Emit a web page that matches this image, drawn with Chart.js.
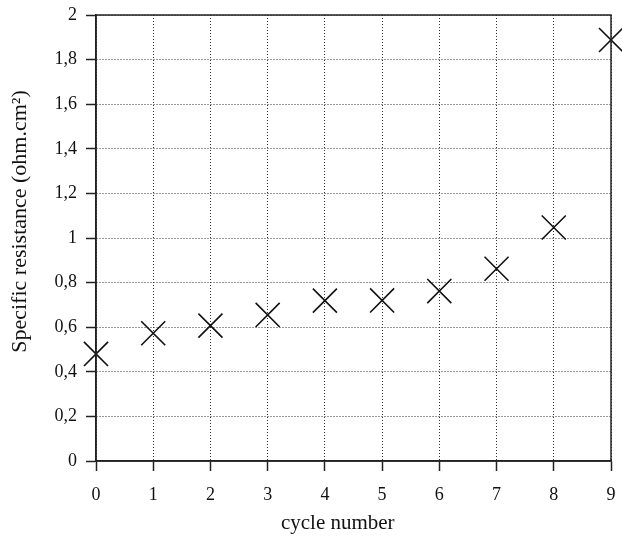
<!DOCTYPE html>
<html>
<head>
<meta charset="utf-8">
<script src="https://cdn.jsdelivr.net/npm/chart.js"></script>
<style>
  html, body { margin: 0; padding: 0; background: #fff; }
  #wrap { width: 622px; height: 536px; }
</style>
</head>
<body>
<div id="wrap"><canvas id="chart"></canvas></div>
<script>
// cycle number vs specific resistance (ohm.cm2)
const cycles = [0, 1, 2, 3, 4, 5, 6, 7, 8, 9];
const resistance = [0.48, 0.573, 0.607, 0.655, 0.719, 0.72, 0.762, 0.862, 1.047, 1.888];
const yTicks = [0, 0.2, 0.4, 0.6, 0.8, 1, 1.2, 1.4, 1.6, 1.8, 2];

const SERIF = '"Liberation Serif", "Times New Roman", serif';

// solid frame round the plot area (grid lines are dotted)
const framePlugin = {
  id: 'frame',
  afterDatasetsDraw(chart) {
    const { ctx, chartArea: a } = chart;
    ctx.save();
    ctx.strokeStyle = '#222';
    ctx.lineWidth = 1.5;
    ctx.strokeRect(a.left, a.top, a.right - a.left, a.bottom - a.top);
    ctx.restore();
  }
};

const points = cycles.map((c, i) => ({ x: c, y: resistance[i] }));

new Chart(document.getElementById('chart'), {
  type: 'scatter',
  data: {
    datasets: [{
      data: points,
      pointStyle: 'crossRot',
      pointRadius: 17,
      pointHoverRadius: 17,
      borderColor: '#111',
      borderWidth: 1.6,
      clip: false
    }]
  },
  options: {
    responsive: true,
    maintainAspectRatio: false,
    animation: false,
    events: [],
    layout: { autoPadding: false, padding: { top: 15, right: 11, left: 0, bottom: 0 } },
    plugins: { legend: { display: false }, tooltip: { enabled: false } },
    scales: {
      x: {
        type: 'linear', min: 0, max: 9,
        afterFit: s => { s.height = 75; s.paddingLeft = 0; s.paddingRight = 0; },
        ticks: { stepSize: 1, color: '#111', padding: 13, font: { family: SERIF, size: 18 } },
        grid: { color: '#333', lineWidth: 1, tickLength: 10, tickColor: '#222', tickWidth: 1.5, tickBorderDash: [] },
        border: { display: true, color: '#222', width: 1.5, dash: [1, 2] },
        title: { display: true, text: 'cycle number      ', color: '#111', font: { family: SERIF, size: 21 }, padding: { top: 5, bottom: 0 } }
      },
      y: {
        type: 'linear', min: 0, max: 2,
        afterFit: s => { s.width = 96; s.paddingTop = 0; s.paddingBottom = 0; },
        afterBuildTicks: s => { s.ticks = yTicks.map(v => ({ value: v })); },
        ticks: {
          color: '#111', padding: 9, font: { family: SERIF, size: 18 },
          callback: v => String(Math.round(v * 10) / 10).replace('.', ',')
        },
        grid: { color: '#333', lineWidth: 1, tickLength: 10, tickColor: '#222', tickWidth: 1.5, tickBorderDash: [] },
        border: { display: true, color: '#222', width: 1.5, dash: [1, 2] },
        title: { display: true, text: '      Specific resistance (ohm.cm²)', color: '#111', font: { family: SERIF, size: 22 }, padding: { top: 7, bottom: 0 } }
      }
    }
  },
  plugins: [framePlugin]
});
</script>
</body>
</html>
